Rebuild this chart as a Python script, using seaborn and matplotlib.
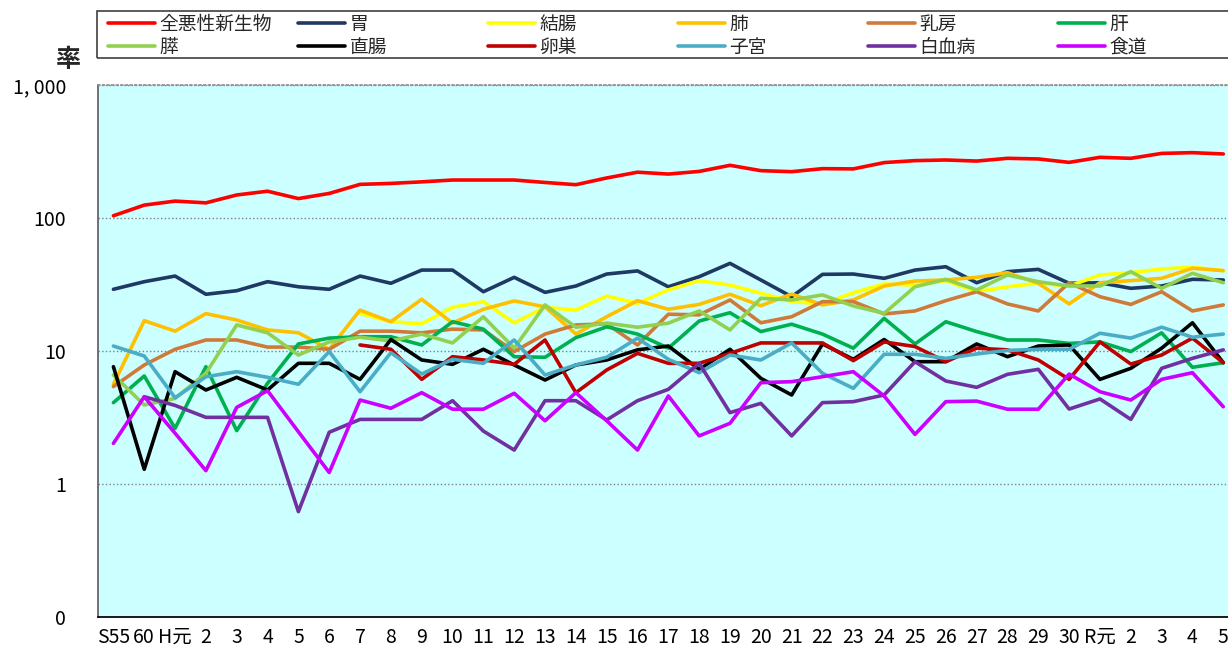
import numpy as np
import pandas as pd
import seaborn as sns
import matplotlib.pyplot as plt
from matplotlib.lines import Line2D
from matplotlib.patches import Rectangle
from matplotlib.ticker import FixedLocator, NullLocator

# x axis labels (S55, S60, H1..H30, R1..R5)
year_labels = ["S55", "60", "H元", "2", "3", "4", "5", "6", "7", "8", "9", "10",
               "11", "12", "13", "14", "15", "16", "17", "18", "19", "20", "21",
               "22", "23", "24", "25", "26", "27", "28", "29", "30",
               "R元", "2", "3", "4", "5"]

nan = np.nan

all_sites = [104, 125, 134, 130, 149, 159, 140, 153, 179, 182, 187, 193, 193,
             193, 185, 178, 200, 221, 214, 224, 249, 227, 223, 235, 234,
             261, 270, 273, 268, 281, 278, 262, 286, 281, 306, 310, 303]
stomach = [29.1, 33.2, 36.6, 26.7, 28.4, 33.2, 30.4, 29.1, 36.6, 32.3, 40.6, 40.6, 27.9,
           35.8, 27.6, 30.8, 37.9, 40.0, 30.4, 36.2, 45.6, 34.2, 25.6, 37.7, 37.9,
           35.2, 40.6, 43.0, 32.6, 39.5, 41.1, 32.3, 32.6, 29.6, 30.8, 34.6, 34.2]
colon = [nan, nan, nan, nan, nan, nan, nan, nan, 19.2, 16.6, 16.0, 21.3, 23.5,
         16.3, 21.3, 20.3, 25.9, 22.8, 28.8, 33.8, 31.3, 27.2, 23.5, 22.6, 27.4,
         31.9, 31.3, 33.8, 27.9, 30.4, 32.3, 30.8, 37.3, 38.8, 41.4, 42.6, 40.2]
lung = [5.6, 16.9, 14.1, 19.1, 17.1, 14.4, 13.7, 10.3, 20.3, 16.6, 24.5, 16.2, 20.6,
        23.8, 21.5, 13.4, 18.1, 23.9, 20.6, 22.4, 26.7, 21.9, 26.8, 22.2, 24.2,
        30.8, 33.6, 34.2, 35.8, 38.8, 32.3, 22.6, 32.6, 33.8, 35.2, 41.9, 40.2]
breast = [5.4, 7.85, 10.3, 12.1, 12.1, 10.7, 10.7, 10.3, 14.1, 14.1, 13.7, 14.6, 14.4,
          9.9, 13.4, 15.7, 16.0, 11.1, 18.9, 18.7, 24.2, 16.3, 18.1, 23.5, 23.5,
          19.0, 20.0, 23.9, 27.9, 22.6, 20.0, 32.6, 25.6, 22.4, 27.9, 20.0, 22.2]
liver = [4.09, 6.49, 2.62, 7.62, 2.52, 5.72, 11.3, 12.5, 12.8, 12.8, 11.1, 16.6, 14.6,
         9.06, 8.97, 12.6, 15.2, 13.4, 10.5, 16.8, 19.4, 14.0, 15.9, 13.4, 10.5,
         17.6, 11.3, 16.6, 14.0, 12.1, 12.1, 11.4, 11.7, 9.9, 13.7, 7.54, 8.17]
pancreas = [6.6, 3.93, 4.4, 6.8, 15.7, 13.7, 9.33, 11.7, 12.7, 11.9, 13.4, 11.5, 18.1,
            10.5, 22.2, 15.1, 16.2, 15.1, 16.2, 20.0, 14.4, 24.9, 24.2, 26.4, 21.8,
            19.2, 30.4, 34.6, 28.8, 37.3, 33.2, 30.8, 30.8, 39.5, 29.6, 38.4, 32.6]
rectum = [7.62, 1.29, 6.99, 5.09, 6.34, 5.09, 8.08, 8.08, 6.12, 12.2, 8.56, 7.94, 10.3,
          7.85, 6.05, 7.85, 8.56, 10.2, 10.9, 7.28, 10.3, 6.23, 4.67, 11.3, 8.66,
          12.2, 8.31, 8.31, 11.3, 9.06, 10.9, 11.1, 6.12, 7.41, 10.5, 16.3, 8.17]
ovary = [nan, nan, nan, nan, nan, nan, nan, nan, 11.1, 10.3, 6.12, 9.06, 8.56,
         7.94, 12.1, 4.86, 7.2, 9.6, 8.08, 8.08, 9.6, 11.5, 11.5, 11.5, 8.46,
         11.7, 10.8, 8.31, 10.5, 10.2, 8.56, 6.12, 11.7, 7.98, 9.33, 12.5, 8.17]
uterus = [10.9, 9.17, 4.45, 6.4, 6.99, 6.34, 5.62, 9.9, 4.94, 9.71, 6.71, 8.66, 8.08,
          12.1, 6.6, 7.85, 8.97, 12.5, 8.66, 6.87, 9.33, 8.56, 11.5, 6.8, 5.24,
          9.45, 9.45, 8.81, 9.5, 10.1, 10.3, 10.3, 13.6, 12.5, 15.1, 12.7, 13.4]
leukemia = [nan, 4.53, 3.9, 3.17, 3.17, 3.17, 0.62, 2.45, 3.06, 3.06, 3.06, 4.23, 2.5,
            1.80, 4.23, 4.23, 3.03, 4.23, 5.15, 8.08, 3.44, 4.04, 2.30, 4.09, 4.16,
            4.67, 8.31, 5.95, 5.33, 6.68, 7.28, 3.66, 4.36, 3.06, 7.41, 8.81, 10.2]
esophagus = [2.02, 4.53, 2.41, 1.26, 3.77, 5.03, 2.47, 1.22, 4.28, 3.71, 4.86, 3.65, 3.65,
             4.81, 2.99, 4.86, 2.99, 1.80, 4.59, 2.30, 2.86, 5.78, 5.88, 6.41, 6.99,
             4.59, 2.36, 4.16, 4.2, 3.65, 3.65, 6.71, 4.94, 4.28, 6.12, 6.87, 3.81]

names = ["全悪性新生物", "胃", "結腸", "肺", "乳房", "肝",
         "膵", "直腸", "卵巣", "子宮", "白血病", "食道"]
series = [all_sites, stomach, colon, lung, breast, liver,
          pancreas, rectum, ovary, uterus, leukemia, esophagus]
colors = ["#FF0000", "#1F3864", "#FFFF00", "#FFC000", "#D07A3A", "#00B050",
          "#92D050", "#000000", "#C00000", "#4BACC6", "#7030A0", "#CC00FF"]

df = pd.DataFrame(dict(zip(names, series)))
df["x"] = np.arange(len(year_labels))
long = df.melt(id_vars="x", var_name="site", value_name="rate").dropna()

sns.set_theme(style="white")
plt.rcParams['font.family'] = ['Noto Sans CJK JP', 'DejaVu Sans']

W, H = 1228, 646
fig = plt.figure(figsize=(W / 100, H / 100), dpi=100)
ax = fig.add_axes([98 / W, 29 / H, 1140.7 / W, 532 / H])
ax.set_facecolor("#CCFFFF")

lw = 2.6
sns.lineplot(data=long, x="x", y="rate", hue="site", hue_order=names,
             palette=colors, linewidth=lw, estimator=None, legend=False, ax=ax)

ax.set_yscale("log")
ax.set_ylim(0.1, 1000)
ax.set_xlim(-0.5, len(year_labels) - 0.5)
ax.yaxis.set_major_locator(FixedLocator([0.1, 1, 10, 100, 1000]))
ax.yaxis.set_minor_locator(NullLocator())
ax.set_yticklabels(["0", "1", "10", "100", "1, 000"])
ax.grid(axis="y", color="#808080", linestyle=":", linewidth=1)
ax.set_xticks(range(len(year_labels)))
ax.set_xticklabels(year_labels)
ax.set_xticks(np.arange(-0.5, len(year_labels), 1), minor=True)
ax.tick_params(axis="x", which="major", length=0, pad=7, labelsize=14, colors="black")
ax.tick_params(axis="x", which="minor", length=5, direction="out", color="#808080")
ax.tick_params(axis="y", length=5, direction="out", color="#808080", pad=18,
               labelsize=14, labelcolor="black")
ax.set_xlabel("")
ax.set_ylabel("")
ax.spines["left"].set_color("#606060")
ax.spines["bottom"].set_color("black")
ax.spines["top"].set_color("#909090")
ax.spines["top"].set_linestyle(":")
ax.spines["right"].set_visible(False)

fig.text(68 / W, 1 - 60 / H, "率", ha="center", va="center", fontsize=18, fontweight="bold")

# legend frame and six columns
fig.add_artist(Rectangle((97 / W, 1 - 58 / H), 1200 / W, 47 / H, transform=fig.transFigure,
                         fill=False, edgecolor="#404040", linewidth=1.2))
handles = [Line2D([], [], color=c, linewidth=lw) for c in colors]
for col in range(6):
    leg = fig.legend([handles[col], handles[col + 6]], [names[col], names[col + 6]],
                     loc="upper left", bbox_to_anchor=((108 + 190 * col) / W, 1 - 14 / H),
                     bbox_transform=fig.transFigure, frameon=False, fontsize=13.5,
                     handlelength=2.5, handletextpad=0.25, labelspacing=0.1,
                     borderpad=0, borderaxespad=0)

fig.savefig("out.png", dpi=100)
